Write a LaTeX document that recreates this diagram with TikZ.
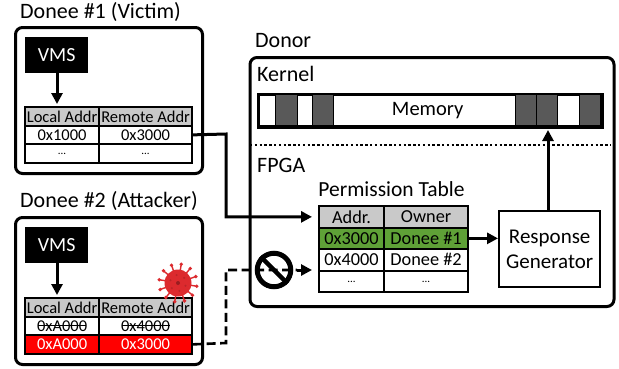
\documentclass[tikz,border=0pt]{standalone}
\usepackage{fontspec}
\setmainfont{Carlito}
\usetikzlibrary{arrows.meta,calc}
\definecolor{hdr}{HTML}{C9C9C9}
\definecolor{grn}{HTML}{5FA137}
\definecolor{blk}{HTML}{595959}
\definecolor{vir}{HTML}{DC2A2E}
\newcommand{\sdots}{\raisebox{-2.5pt}{\fontsize{11}{11}\selectfont ...}}
\tikzset{
  title/.style={anchor=west,inner sep=0pt,font=\fontsize{22}{22}\selectfont},
  outer/.style={draw=black,line width=3pt,rounded corners=7pt,fill=white},
  vms/.style={fill=black,text=white,minimum width=63pt,minimum height=36pt,inner sep=0pt,font=\fontsize{20}{20}\selectfont},
  cellbase/.style={draw=black,line width=2.2pt,inner sep=0pt,anchor=north west},
  lcol/.style={cellbase,minimum width=74pt,minimum height=18.5pt,font=\fontsize{16.5}{16.5}\selectfont},
  rcol/.style={cellbase,minimum width=93pt,minimum height=18.5pt,font=\fontsize{16.5}{16.5}\selectfont},
  pa/.style={cellbase,minimum width=65pt,minimum height=21.5pt,font=\fontsize{18.3}{18.3}\selectfont},
  pb/.style={cellbase,minimum width=84pt,minimum height=21.5pt,font=\fontsize{18.3}{18.3}\selectfont},
  arr/.style={line width=3pt,-{Triangle[length=11pt,width=11pt]}},
  memcell/.style={draw=black,line width=1pt,fill=blk,inner sep=0pt,minimum height=31pt,anchor=north west},
  strike/.style={line width=.9pt},
}
\begin{document}
\begin{tikzpicture}[x=1pt,y=-1pt]
\useasboundingbox (0,0) rectangle (619,368);
% Donee 1
\node[title] (t1) at (20,12) {Donee \#1 (Victim)};
\node[outer,minimum width=187pt,minimum height=146pt,anchor=north west,inner sep=0pt] (d1) at (14,26) {};
\node[vms,anchor=north west] (v1) at (25,37) {VMS};
\node[lcol,fill=hdr] (a1) at (24,106) {Local Addr};
\node[rcol,fill=hdr] (b1) at (98,106) {Remote Addr};
\node[lcol] (a2) at (24,124.5) {0x1000};
\node[rcol] (b2) at (98,124.5) {0x3000};
\node[lcol] (a3) at (24,143) {\sdots};
\node[rcol] (b3) at (98,143) {\sdots};
\coordinate (v1t) at (57,104);
\draw[arr] (v1.south -| v1t) -- (v1t);
% Donee 2
\node[title] (t2) at (20,201) {Donee \#2 (Attacker)};
\node[outer,minimum width=187pt,minimum height=147pt,anchor=north west,inner sep=0pt] (d2) at (14,216) {};
\node[vms,anchor=north west] (v2) at (25,227) {VMS};
\node[lcol,fill=hdr] (c1) at (24,297) {Local Addr};
\node[rcol,fill=hdr] (e1) at (98,297) {Remote Addr};
\node[lcol] (c2) at (24,315.5) {0xA000};
\node[rcol] (e2) at (98,315.5) {0x4000};
\node[lcol,fill=red,text=white] (c3) at (24,334) {0xA000};
\node[rcol,fill=red,text=white] (e3) at (98,334) {0x3000};
\draw[strike] ([xshift=-24pt]c2.center) -- ([xshift=24pt]c2.center);
\draw[strike] ([xshift=-24pt]e2.center) -- ([xshift=24pt]e2.center);
\coordinate (v2t) at (57,295);
\draw[arr] (v2.south -| v2t) -- (v2t);
% Virus
\begin{scope}[shift={(178,283)}]
  \foreach \a in {10,40,...,340}{
    \draw[vir,line width=1.4pt] (0,0) -- (\a:19);
    \fill[vir] (\a:19) circle (1.9pt);
  }
  \fill[vir] (0,0) circle (13.5pt);
  \fill[vir!70!black] (0,0) circle (2pt);
  \foreach \a in {20,80,...,320}{\fill[vir!85!black] (\a:8) circle (1.1pt);}
\end{scope}
% Donor
\node[title,anchor=west] (t3) at (255,41) {Donor};
\node[outer,minimum width=364pt,minimum height=249pt,anchor=north west,inner sep=0pt] (don) at (248.5,56) {};
\node[title] (ker) at (257,74) {Kernel};
\node[title] (fpga) at (257,165) {FPGA};
\coordinate (dl) at (250,145);
\coordinate (dr) at (611,145);
\draw[line width=2.4pt,dash pattern=on 2.4pt off 2.4pt] (dl) -- (dr);
% Memory
\node[draw=black,line width=2.4pt,fill=white,minimum width=342pt,minimum height=31pt,anchor=north west,inner sep=0pt,font=\fontsize{20.5}{20.5}\selectfont] (mem) at (258,94) {\hspace{-5pt}\raisebox{-2pt}{Memory}};
\foreach \x/\w/\n in {275/22/m1,312/21/m2,515/21/m3,536/21/m4,579/21/m5}{
  \node[memcell,minimum width=\w pt] (\n) at (\x,94) {};
}
\draw[draw=black,line width=2.4pt] (mem.north west) rectangle (mem.south east);
% Permission table
\node[title,anchor=center,font=\fontsize{21.5}{21.5}\selectfont] (pt) at (391.5,189.5) {Permission Table};
\node[pa,fill=hdr] (p1) at (318,205) {Addr.};
\node[pb,fill=hdr] (q1) at (383,205) {Owner};
\node[pa,fill=grn] (p2) at (318,226.5) {0x3000};
\node[pb,fill=grn] (q2) at (383,226.5) {Donee \#1};
\node[pa] (p3) at (318,248) {0x4000};
\node[pb] (q3) at (383,248) {Donee \#2};
\node[pa] (p4) at (318,269.5) {\sdots};
\node[pb] (q4) at (383,269.5) {\sdots};
% Response generator
\node[draw=black,line width=2.4pt,fill=white,minimum width=101pt,minimum height=76pt,anchor=north west,inner sep=0pt,align=center,font=\fontsize{21}{25}\selectfont] (rg) at (498,210) {Response\\Generator};
\draw[arr] (q2.east) -- (q2.east -| rg.west);
\coordinate (mt) at (548,130);
\draw[arr] (rg.north -| mt) -- (mt);
% Connectors
\coordinate (bend1) at (226,134);
\coordinate (bend2) at (226,343);
\draw[arr,shorten >=6pt] (b2.east) -- (bend1) |- (p1.west);
\coordinate (bt) at (297,270);
\draw[line width=2.6pt,dash pattern=on 9pt off 4.5pt] (e3.east) -- (bend2) |- (bt);
\node[draw=black,line width=5pt,circle,minimum size=33.5pt,inner sep=0pt] (no) at (274,270) {};
\draw[line width=4.5pt] (no.135) -- (no.315);
\draw[arr,shorten >=6pt] (bt) -- (p4.north west |- bt);
\end{tikzpicture}
\end{document}
